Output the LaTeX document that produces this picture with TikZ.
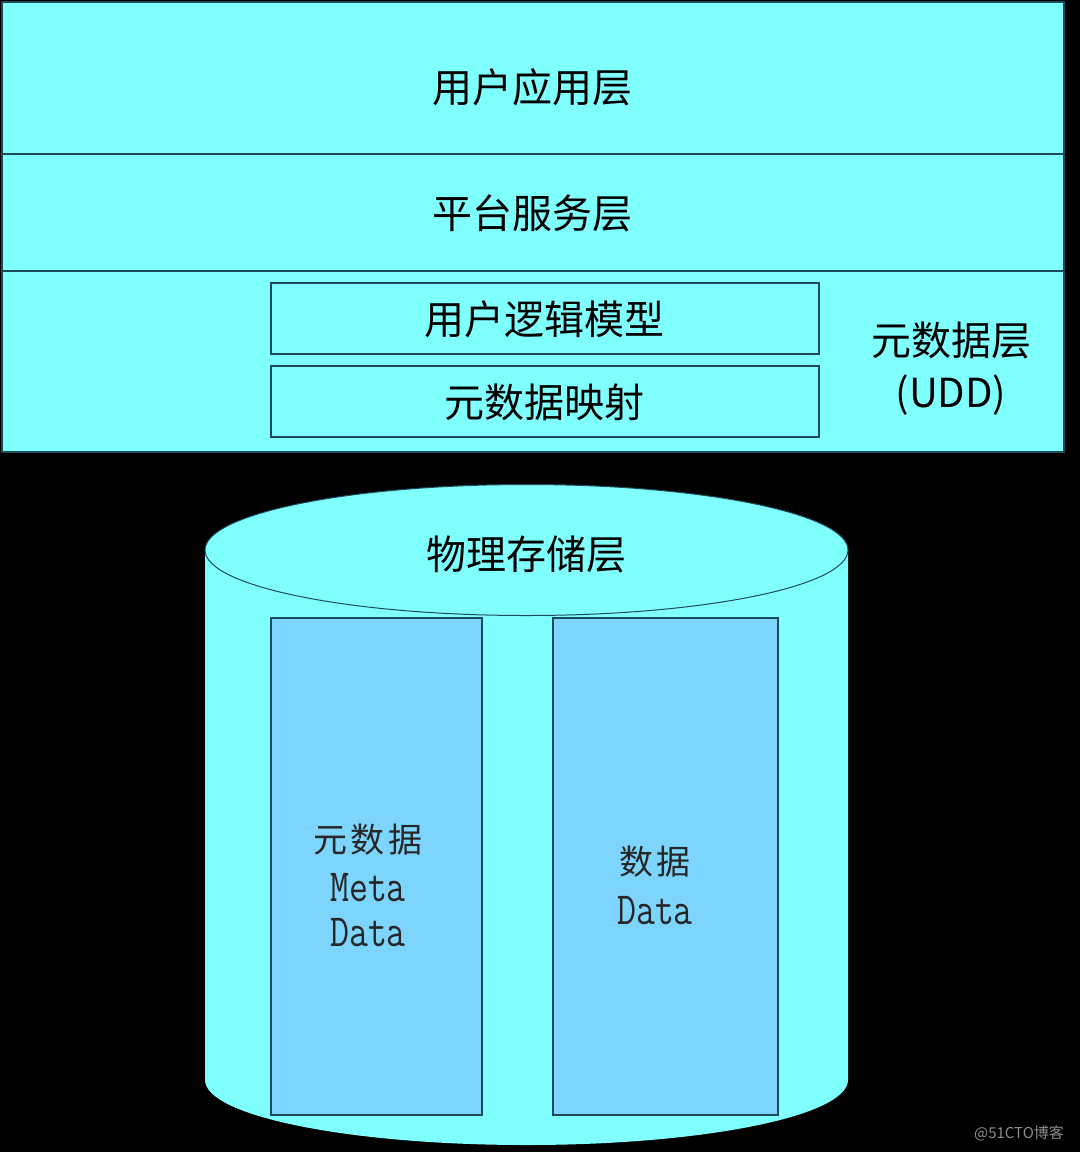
\documentclass[tikz,border=0pt]{standalone}
\usepackage{fontspec}
\usetikzlibrary{shapes.geometric}
\newfontfamily\cjk{Noto Sans CJK SC}
\newfontfamily\monoN[FakeStretch=0.8]{Latin Modern Mono}
\definecolor{cyanfill}{HTML}{80FFFF}
\definecolor{bluefill}{HTML}{7DD4FC}
\definecolor{edgecol}{HTML}{1F4A5A}
\begin{document}
\begin{tikzpicture}[x=1pt,y=-1pt,
  layer/.style={draw=edgecol,line width=1.2pt,fill=cyanfill,rectangle,inner sep=0pt},
  subbox/.style={draw=edgecol,line width=1.2pt,fill=cyanfill,rectangle,inner sep=0pt},
  blk/.style={draw=edgecol,line width=1.2pt,fill=bluefill,rectangle,inner sep=0pt},
  big/.style={font=\cjk\fontsize{40}{44}\selectfont,text=black,inner sep=0pt},
  songt/.style={font=\cjk\fontsize{34}{38}\selectfont,text=black!85,inner sep=0pt},
  monot/.style={font=\monoN\fontsize{46}{48}\selectfont,text=black!85,inner sep=0pt}]
\fill[black] (0,0) rectangle (1080,1152);
\useasboundingbox (0,0) rectangle (1080,1152);
% top layers
\node[layer,minimum width=1062pt,minimum height=152pt] (app) at (533,78) {};
\node[layer,minimum width=1062pt,minimum height=117pt] (plat) at (533,212.5) {};
\node[layer,minimum width=1062pt,minimum height=181pt] (udd) at (533,361.5) {};
\node[big] (tapp) at (532,87) {用户应用层};
\node[big] (tplat) at (532,213) {平台服务层};
\node[subbox,minimum width=548pt,minimum height=71pt] (logic) at (545,318.5) {};
\node[subbox,minimum width=548pt,minimum height=71pt] (map) at (545,401.5) {};
\node[big] (tlogic) at (544,319) {用户逻辑模型};
\node[big] (tmap) at (544,402) {元数据映射};
\node[big] (tudd1) at (951,340) {元数据层};
\node[big] (tudd2) at (951,395) {(UDD)};
% cylinder
\fill[cyanfill] (205,550) -- (205,1080) arc (180:0:321.5 and 65) -- (848,550) -- cycle;
\node[draw=edgecol,line width=1pt,fill=cyanfill,ellipse,minimum width=643pt,minimum height=131pt,inner sep=0pt] (ctop) at (526.5,550) {};
\node[big] (tphys) at (526,554) {物理存储层};
\node[blk,minimum width=211pt,minimum height=497pt] (meta) at (376.5,866.5) {};
\node[blk,minimum width=225pt,minimum height=497pt] (data) at (665.5,866.5) {};
\node[songt] (m1) at (368,840) {元\hspace{4pt}数\hspace{4pt}据};
\node[monot] (m2) at (368,888) {Meta};
\node[monot] (m3) at (368,933) {Data};
\node[songt] (d1) at (655,862) {数\hspace{4pt}据};
\node[monot] (d2) at (655,911) {Data};
\node[font=\cjk\fontsize{15}{16}\selectfont,text=black!45,inner sep=0pt] (wm) at (1019,1133) {@51CTO博客};
\end{tikzpicture}
\end{document}
